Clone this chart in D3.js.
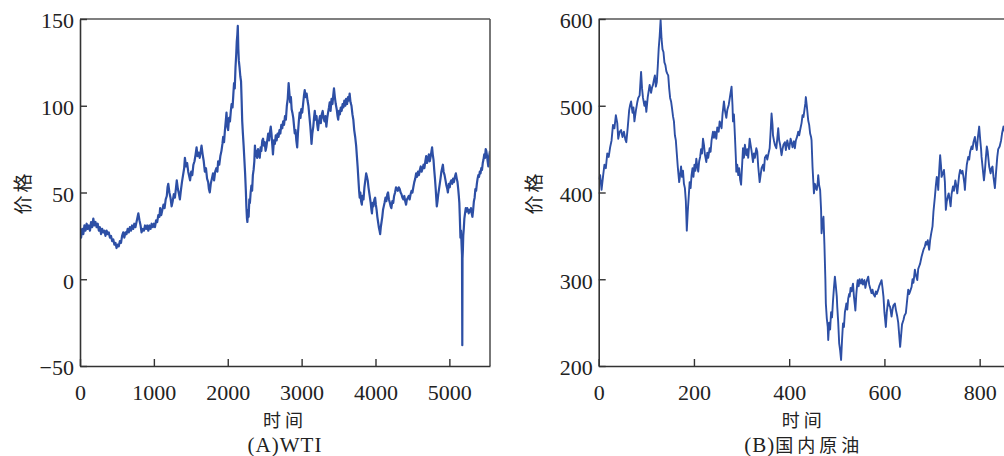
<!DOCTYPE html>
<html>
<head>
<meta charset="utf-8">
<script src="https://cdn.jsdelivr.net/npm/d3@7"></script>
<style>
  html, body { margin: 0; padding: 0; background: #fff; overflow: hidden; }
  svg text { fill: #222; }
</style>
</head>
<body>
<svg id="chart" width="1004" height="456"></svg>
<script>
// ── DATA ────────────────────────────────────────────
// (A) WTI: [time index, price]
const wtiSeries = [
  [0,27],[15,24],[30,29],[45,26],[60,31],[75,28],[90,32],[105,29],[120,31],[135,28],[150,33],[165,30],[180,35],[195,31],[210,33],[225,30],[240,32],[255,28],[270,30],[285,26],
  [300,29],[315,27],[330,28],[345,25],[360,28],[375,26],[390,27],[405,24],[420,25],[435,22],[450,23],[465,20],[480,21],[495,18],[510,20],[525,19],[540,22],[555,21],[570,25],[585,27],
  [600,24],[615,27],[630,26],[645,29],[660,27],[675,30],[690,28],[705,31],[720,29],[735,32],[750,30],[765,33],[780,36],[790,38],[805,34],[820,31],[833,27],[850,29],[865,28],[880,31],
  [895,29],[910,31],[925,28],[940,31],[955,29],[970,32],[985,30],[1000,32],[1015,30],[1030,34],[1045,33],[1060,37],[1075,36],[1085,41],[1100,37],[1115,40],[1130,43],[1145,41],[1160,46],[1175,48],
  [1185,53],[1195,55],[1210,50],[1225,47],[1240,42],[1255,45],[1270,49],[1285,47],[1300,53],[1310,57],[1325,52],[1340,49],[1352,46],[1365,51],[1380,56],[1395,60],[1410,64],[1420,70],[1435,65],[1450,67],
  [1465,62],[1480,59],[1490,57],[1505,62],[1520,60],[1535,66],[1550,68],[1565,72],[1578,76],[1590,71],[1605,73],[1620,70],[1635,74],[1645,77],[1660,72],[1675,68],[1690,62],[1705,64],[1720,58],[1735,56],
  [1745,52],[1757,50],[1770,55],[1785,58],[1800,61],[1815,57],[1830,62],[1845,64],[1860,62],[1870,68],[1885,66],[1900,71],[1915,74],[1928,78],[1938,82],[1950,79],[1962,86],[1975,92],[1983,96],[1995,88],
  [2005,86],[2018,93],[2030,91],[2042,97],[2052,101],[2065,99],[2075,106],[2085,113],[2095,110],[2105,122],[2115,130],[2122,137],[2130,141],[2136,146],[2143,133],[2150,126],[2160,122],[2170,117],[2180,114],[2188,103],
  [2196,91],[2205,84],[2215,77],[2225,69],[2235,61],[2245,51],[2252,42],[2260,35],[2266,33],[2275,40],[2283,36],[2292,46],[2300,44],[2310,50],[2320,54],[2330,51],[2340,60],[2350,63],[2360,68],[2368,77],
  [2378,71],[2388,74],[2398,70],[2410,75],[2420,72],[2433,70],[2445,76],[2455,74],[2468,80],[2478,81],[2490,77],[2500,79],[2512,74],[2522,76],[2535,80],[2548,84],[2560,80],[2572,85],[2582,88],[2592,84],
  [2602,78],[2612,72],[2625,80],[2638,78],[2650,83],[2662,80],[2675,84],[2688,82],[2700,86],[2712,84],[2725,89],[2738,87],[2750,91],[2762,89],[2775,94],[2787,92],[2800,100],[2812,104],[2824,113],[2835,107],
  [2845,102],[2855,105],[2865,98],[2875,96],[2887,93],[2898,88],[2907,84],[2918,86],[2928,80],[2940,76],[2950,84],[2962,91],[2973,96],[2985,93],[2995,98],[3008,96],[3020,101],[3032,106],[3042,109],[3055,105],
  [3068,107],[3080,103],[3092,100],[3105,94],[3118,88],[3128,82],[3134,78],[3145,84],[3158,88],[3168,93],[3178,97],[3190,92],[3202,94],[3212,89],[3222,86],[3235,91],[3248,94],[3260,90],[3272,95],[3285,97],
  [3297,93],[3310,91],[3322,94],[3335,88],[3347,93],[3358,96],[3370,99],[3380,102],[3392,97],[3405,104],[3418,101],[3428,106],[3438,110],[3450,105],[3462,101],[3475,98],[3486,94],[3495,92],[3507,97],[3518,95],
  [3530,99],[3542,97],[3555,101],[3565,99],[3578,103],[3590,100],[3602,104],[3615,101],[3628,105],[3640,103],[3650,107],[3662,102],[3675,100],[3688,95],[3700,92],[3712,86],[3725,82],[3738,77],[3748,71],[3758,65],
  [3768,58],[3778,51],[3786,47],[3795,50],[3805,45],[3815,43],[3825,48],[3838,46],[3850,53],[3862,57],[3874,61],[3885,59],[3895,57],[3905,53],[3915,50],[3925,47],[3935,44],[3945,40],[3952,38],[3962,44],
  [3972,42],[3985,46],[3995,47],[4005,43],[4015,40],[4025,36],[4035,33],[4045,30],[4055,28],[4063,26],[4072,30],[4082,33],[4092,36],[4102,40],[4112,42],[4122,44],[4135,47],[4148,45],[4160,49],[4170,50],
  [4182,46],[4195,44],[4205,42],[4215,41],[4228,45],[4240,44],[4252,48],[4265,50],[4278,53],[4290,52],[4302,51],[4315,53],[4328,52],[4340,50],[4352,49],[4365,47],[4378,46],[4390,48],[4402,45],[4414,43],
  [4425,46],[4438,47],[4450,48],[4462,46],[4475,49],[4488,51],[4500,50],[4512,53],[4525,56],[4538,58],[4550,61],[4562,59],[4575,62],[4588,60],[4600,63],[4612,65],[4625,62],[4638,64],[4650,66],[4662,64],
  [4675,68],[4686,71],[4698,67],[4710,69],[4722,72],[4735,68],[4748,71],[4758,74],[4766,76],[4775,72],[4785,69],[4795,63],[4805,58],[4815,52],[4822,47],[4830,42],[4840,45],[4850,49],[4860,52],[4870,55],
  [4880,58],[4892,62],[4902,64],[4912,66],[4922,62],[4935,60],[4948,57],[4960,54],[4972,52],[4980,50],[4992,55],[5005,53],[5015,56],[5025,57],[5038,55],[5050,58],[5062,56],[5075,59],[5088,61],[5100,58],
  [5110,56],[5120,52],[5128,48],[5135,44],[5142,35],[5150,24],[5158,28],[5165,20],[5171,14],[5175,-38],[5178,12],[5183,17],[5188,25],[5195,29],[5203,35],[5212,38],[5222,41],[5232,39],[5242,41],[5252,40],
  [5262,38],[5272,40],[5282,39],[5292,41],[5302,38],[5312,36],[5322,40],[5332,45],[5342,47],[5352,52],[5362,51],[5372,55],[5382,58],[5392,60],[5402,59],[5412,62],[5422,61],[5432,64],[5442,63],[5452,67],
  [5462,69],[5472,72],[5482,70],[5492,75],[5500,74],[5510,71],[5518,68],[5527,65],[5535,70],[5542,72],[5550,74]
];

// (B) 国内原油: [time index, price]
const crudeSeries = [
  [0,415],[3,420],[6,403],[9,418],[12,432],[15,428],[18,445],[21,441],[24,452],[27,460],[30,478],[33,474],[36,489],[39,480],[41,462],[44,470],[47,472],[50,464],[53,470],[56,461],
  [58,458],[61,475],[64,495],[66,501],[68,505],[71,492],[73,498],[75,482],[78,494],[81,504],[83,509],[86,512],[89,539],[91,520],[93,509],[96,500],[98,505],[100,493],[103,510],[105,517],
  [107,524],[110,515],[112,521],[114,524],[116,530],[118,535],[120,522],[122,527],[124,545],[126,566],[128,580],[130,599],[132,577],[134,565],[136,562],[138,550],[140,547],[142,540],[144,537],[146,535],
  [148,520],[150,509],[152,505],[154,497],[156,488],[158,482],[160,466],[162,460],[164,445],[166,430],[167,424],[169,412],[171,420],[173,430],[175,418],[177,425],[179,410],[181,405],[183,390],[185,356],
  [187,378],[189,395],[191,412],[193,405],[195,420],[197,428],[199,418],[201,432],[203,425],[205,439],[207,430],[209,424],[211,436],[213,441],[215,450],[217,445],[219,462],[221,455],[223,444],[226,435],
  [228,446],[230,440],[233,451],[235,447],[237,460],[240,470],[242,463],[244,470],[247,462],[249,475],[252,470],[254,482],[256,478],[258,474],[260,490],[263,505],[265,495],[268,486],[270,495],[273,501],
  [275,508],[277,515],[279,522],[281,500],[282,482],[284,490],[286,466],[288,440],[289,424],[291,432],[293,420],[295,428],[297,415],[299,409],[301,430],[303,451],[305,440],[307,455],[310,443],[312,450],
  [314,440],[317,462],[319,455],[321,448],[324,435],[326,445],[328,440],[331,451],[333,447],[335,430],[338,412],[340,420],[342,428],[345,432],[347,425],[349,440],[352,443],[354,438],[357,446],[359,451],
  [361,470],[363,491],[365,478],[366,466],[368,460],[370,455],[373,451],[375,462],[377,474],[379,460],[381,455],[384,443],[386,450],[388,455],[391,458],[393,449],[396,460],[398,455],[400,450],[403,462],
  [405,458],[407,452],[410,459],[412,451],[414,460],[417,465],[419,470],[421,466],[423,472],[426,480],[428,489],[430,487],[432,495],[434,503],[435,510],[437,500],[440,483],[442,478],[444,468],[446,464],
  [447,460],[449,430],[452,399],[454,410],[456,405],[458,403],[460,412],[461,420],[463,408],[465,403],[467,380],[468,353],[470,365],[472,372],[474,340],[476,300],[477,272],[479,255],[481,245],[482,230],
  [484,250],[486,242],[488,262],[490,256],[492,275],[494,290],[496,303],[498,292],[500,280],[501,268],[503,250],[505,226],[507,218],[509,207],[511,230],[513,249],[515,245],[517,262],[519,268],[520,272],
  [522,265],[524,278],[526,283],[527,280],[529,290],[531,286],[533,292],[534,295],[536,280],[538,270],[539,264],[541,283],[543,295],[544,299],[546,292],[548,300],[550,296],[551,295],[553,300],[555,294],
  [557,298],[558,299],[560,290],[562,296],[564,300],[566,303],[568,294],[570,290],[573,284],[575,288],[577,283],[580,280],[582,286],[584,283],[587,288],[589,292],[592,296],[594,299],[596,290],[598,280],
  [600,262],[603,245],[605,262],[608,276],[610,270],[612,268],[615,257],[617,265],[619,270],[622,272],[624,265],[627,257],[629,250],[631,236],[633,222],[635,235],[637,248],[640,253],[642,258],[645,261],
  [647,272],[650,288],[652,283],[654,286],[657,291],[659,300],[661,296],[664,311],[666,305],[669,299],[671,312],[673,315],[675,318],[678,326],[680,330],[682,334],[685,338],[687,343],[689,340],[691,345],
  [694,334],[696,345],[698,352],[701,361],[703,378],[706,395],[708,408],[710,418],[712,410],[713,403],[715,425],[717,443],[719,430],[720,418],[722,421],[725,426],[727,412],[729,380],[731,390],[733,395],
  [735,399],[737,392],[739,384],[741,398],[744,407],[746,402],[749,414],[751,408],[753,399],[755,410],[757,420],[759,426],[762,422],[764,425],[766,418],[768,410],[769,403],[771,420],[773,432],[776,441],
  [778,438],[780,447],[783,453],[785,450],[787,458],[790,464],[792,455],[794,449],[796,462],[799,476],[801,462],[803,450],[804,441],[806,430],[809,414],[811,425],[813,440],[815,453],[817,447],[818,441],
  [820,430],[823,422],[825,428],[827,430],[829,418],[832,405],[834,420],[837,441],[839,450],[842,453],[845,460],[847,468],[850,476],[853,470],[856,474]
];

const wtiXTicks   = [0, 1000, 2000, 3000, 4000, 5000];
const wtiYTicks   = [-50, 0, 50, 100, 150];
const crudeXTicks = [0, 200, 400, 600, 800];
const crudeYTicks = [200, 300, 400, 500, 600];

const panels = [
  { id: 'a', data: wtiSeries,   xDomain: [0, 5550], yDomain: [-50, 150], xTicks: wtiXTicks,   yTicks: wtiYTicks,
    left: 80,    ylabelX: 22.5, stroke: 2.2, title: '(A)WTI', titleCJK: '' },
  { id: 'b', data: crudeSeries, xDomain: [0, 861],  yDomain: [200, 600], xTicks: crudeXTicks, yTicks: crudeYTicks,
    left: 598.7, ylabelX: 534,  stroke: 1.9, title: '(B)', titleCJK: '国内原油' }
];

// ── LAYOUT ──────────────────────────────────────────
const TOP = 19, PW = 410, PH = 347;
const LINE_COLOR = '#2d4fa5';
const NUM_FONT = '"Liberation Serif", "Times New Roman", serif';
const CJK_FONT = '"Noto Sans CJK SC", "Noto Sans", sans-serif';

const svg = d3.select('#chart');
svg.append('rect').attr('width', 1004).attr('height', 456).attr('fill', '#fff');

panels.forEach(p => {
  const g = svg.append('g').attr('transform', `translate(${p.left},${TOP})`);
  const x = d3.scaleLinear().domain(p.xDomain).range([0, PW]);
  const y = d3.scaleLinear().domain(p.yDomain).range([PH, 0]);

  g.append('clipPath').attr('id', 'clip-' + p.id)
    .append('rect').attr('x', 0).attr('y', -2).attr('width', PW).attr('height', PH + 2);

  // series line
  g.append('path')
    .datum(p.data)
    .attr('clip-path', `url(#clip-${p.id})`)
    .attr('fill', 'none')
    .attr('stroke', LINE_COLOR)
    .attr('stroke-width', p.stroke)
    .attr('stroke-linejoin', 'round')
    .attr('d', d3.line().x(d => x(d[0])).y(d => y(d[1])));

  // top and right border
  g.append('line').attr('x1', 0).attr('x2', PW).attr('y1', 0).attr('y2', 0)
    .attr('stroke', '#555').attr('stroke-width', 1.6);
  g.append('line').attr('x1', PW).attr('x2', PW).attr('y1', 0).attr('y2', PH)
    .attr('stroke', '#555').attr('stroke-width', 1.6);

  // axes, inward ticks
  const xAxis = g.append('g').attr('transform', `translate(0,${PH})`)
    .call(d3.axisBottom(x).tickValues(p.xTicks).tickSizeInner(-7).tickSizeOuter(0).tickPadding(18)
      .tickFormat(d3.format('d')));
  const yAxis = g.append('g')
    .call(d3.axisLeft(y).tickValues(p.yTicks).tickSizeInner(-7).tickSizeOuter(0).tickPadding(6)
      .tickFormat(d => d < 0 ? '\u2212' + Math.abs(d) : String(d)));

  [xAxis, yAxis].forEach(a => {
    a.select('.domain').attr('stroke', '#333').attr('stroke-width', 1.6);
    a.selectAll('.tick line').attr('stroke', '#333').attr('stroke-width', 1.4);
    a.selectAll('.tick text')
      .attr('font-family', NUM_FONT).attr('font-size', 22).attr('fill', '#222');
  });
  yAxis.selectAll('.tick text').attr('dy', '0.4em');

  // axis titles
  g.append('text')
    .attr('x', PW / 2).attr('y', 408)
    .attr('text-anchor', 'middle')
    .attr('font-family', CJK_FONT).attr('font-size', 18)
    .attr('letter-spacing', 4)
    .text('时间');

  g.append('text')
    .attr('transform', `translate(${p.ylabelX - p.left + 7},${PH / 2}) rotate(-90)`)
    .attr('text-anchor', 'middle')
    .attr('font-family', CJK_FONT).attr('font-size', 19)
    .attr('letter-spacing', 3)
    .text('价格');

  // panel caption
  const cap = g.append('text')
    .attr('x', PW / 2).attr('y', 433)
    .attr('text-anchor', 'middle')
    .attr('font-family', NUM_FONT).attr('font-size', 21)
    .attr('letter-spacing', 1);
  cap.append('tspan').text(p.title);
  if (p.titleCJK) {
    cap.append('tspan').attr('font-family', CJK_FONT).attr('font-size', 18)
      .attr('letter-spacing', 4).text(p.titleCJK);
  }
});
</script>
</body>
</html>
